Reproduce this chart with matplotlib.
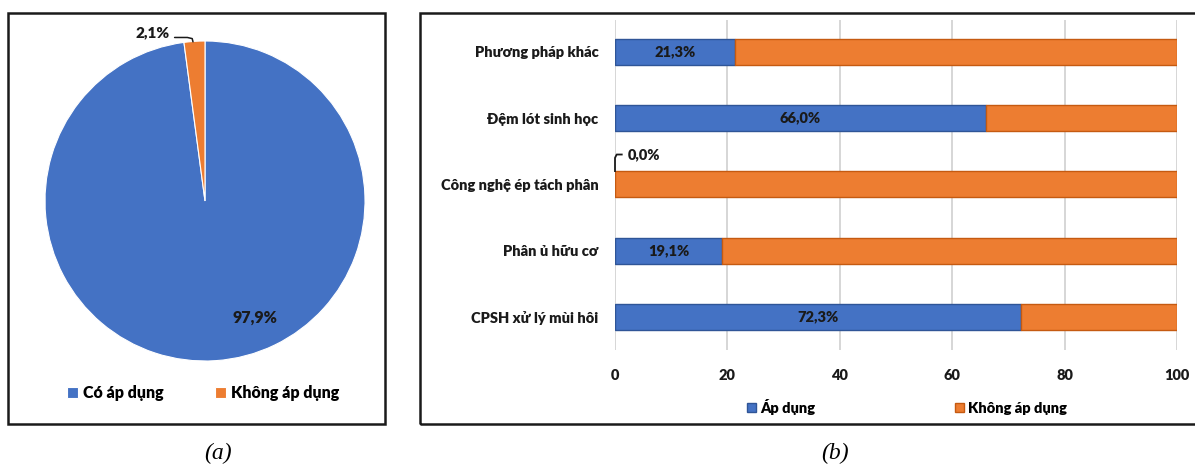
import matplotlib
matplotlib.use('Agg')
import matplotlib.pyplot as plt
from matplotlib.patches import Rectangle, Patch
import numpy as np

plt.rcParams['font.family'] = ['Lato', 'Noto Sans', 'DejaVu Sans']
plt.rcParams['font.weight'] = 'heavy'

# (a) share of farms applying any method
pie_labels = ['Có áp dụng', 'Không áp dụng']
pie_values = [97.9, 2.1]

# (b) applied / not applied per method, bottom to top
methods = ['CPSH xử lý mùi hôi', 'Phân ủ hữu cơ', 'Công nghệ ép tách phân',
           'Đệm lót sinh học', 'Phương pháp khác']
applied = [72.3, 19.1, 0.0, 66.0, 21.3]
not_applied = [27.7, 80.9, 100.0, 34.0, 78.7]
series_labels = ['Áp dụng', 'Không áp dụng']
xticks = [0, 20, 40, 60, 80, 100]

blue = '#4472C4'
orange = '#ED7D31'
blue_edge = '#2F5597'
orange_edge = '#C55A11'
ink = '#1a1a1a'

W, H = 1195, 468
fig = plt.figure(figsize=(W / 100, H / 100), dpi=100)

def fx(px):
    return px / W

def fy(py):
    return (H - py) / H

def pct(v):
    return f'{v:.1f}%'.replace('.', ',')

# panel frames
for x0, x1 in [(8, 385), (420, 1197)]:
    fig.patches.append(Rectangle((fx(x0), fy(424)), fx(x1 - x0), (424 - 13) / H,
                                 transform=fig.transFigure, fill=False,
                                 edgecolor=ink, linewidth=1.8))

# ---- pie ----
ax1 = fig.add_axes([fx(45), fy(361), fx(320), 320 / H])
wedges, _ = ax1.pie(pie_values, colors=[blue, orange], startangle=90, counterclock=False,
                    radius=1, wedgeprops=dict(edgecolor='white', linewidth=0.8))
ax1.set_xlim(-1, 1)
ax1.set_ylim(-1, 1)
ax1.set_aspect('equal')
ax1.axis('off')
ax1.text(0.31, -0.73, pct(pie_values[0]), ha='center', va='center', fontsize=11.5, color=ink)
ax1.text(-0.33, 1.05, pct(pie_values[1]), ha='center', va='center', fontsize=11, color=ink,
         clip_on=False)
# leader line to the small slice
ax1.plot([-0.19, -0.11, -0.08, -0.075], [1.022, 1.022, 1.015, 0.995], color=ink, lw=1.1,
         clip_on=False, solid_capstyle='round')

fig.legend(wedges, pie_labels, loc='center', bbox_to_anchor=(fx(203), fy(393)), ncol=2,
           frameon=False, fontsize=11.5, handlelength=0.7, handleheight=0.7,
           handletextpad=0.3, columnspacing=3.2)

# ---- stacked bars ----
ax2 = fig.add_axes([fx(615), fy(350), fx(562), 330 / H])
y = np.arange(len(methods))
ax2.barh(y, applied, height=0.39, color=blue, edgecolor=blue_edge, linewidth=1,
         label=series_labels[0], zorder=3)
ax2.barh(y, not_applied, left=applied, height=0.39, color=orange, edgecolor=orange_edge,
         linewidth=1, label=series_labels[1], zorder=3)

for yi, v in zip(y, applied):
    if v > 0:
        ax2.text(v / 2, yi, pct(v), ha='center', va='center', fontsize=10.5, color=ink, zorder=4)
    else:
        ax2.text(v + 2.3, yi + 0.45, pct(v), ha='left', va='center', fontsize=10.5, color=ink)
        ax2.plot([v, v, v + 0.3, v + 1.2], [yi + 0.2, yi + 0.4, yi + 0.45, yi + 0.45],
                 color=ink, lw=1.3, clip_on=False, zorder=4)

ax2.set_xlim(0, 100)
ax2.set_ylim(-0.5, 4.48)
ax2.set_xticks(xticks)
ax2.set_yticks(y)
ax2.set_yticklabels(methods)
ax2.tick_params(axis='both', length=0, labelsize=10.5, colors=ink)
ax2.tick_params(axis='x', pad=14)
ax2.tick_params(axis='y', pad=12)
ax2.grid(axis='x', color='#d0d0d0', linewidth=1.2, zorder=0)
for s in ax2.spines.values():
    s.set_visible(False)

handles = [Patch(facecolor=blue, edgecolor=blue_edge), Patch(facecolor=orange, edgecolor=orange_edge)]
fig.legend(handles, series_labels, loc='center', bbox_to_anchor=(fx(907), fy(407)), ncol=2,
           frameon=False, fontsize=10.5, handlelength=0.6, handleheight=0.6,
           handletextpad=0.3, columnspacing=9.6)

# sub-figure captions
for xc, cap in [(218, '(a)'), (835, '(b)')]:
    fig.text(fx(xc), fy(443), cap, ha='center', va='top', fontsize=17, style='italic',
             fontweight='normal', family='Liberation Serif')

fig.savefig('out.png', dpi=100)
